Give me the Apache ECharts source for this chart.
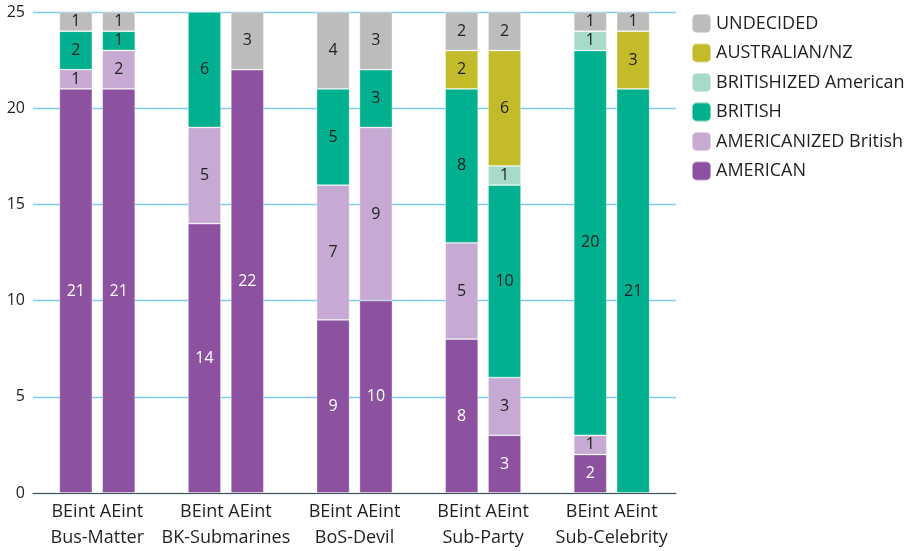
<!DOCTYPE html>
<html>
<head>
<meta charset="utf-8">
<script src="https://cdn.jsdelivr.net/npm/echarts@6/dist/echarts.min.js"></script>
<style>
  html, body { margin: 0; padding: 0; background: #fff; }
  #chart { width: 919px; height: 551px; }
</style>
</head>
<body>
<div id="chart"></div>
<script>
// Stimulus groups; each has a BEint and an AEint bar
const groups = ['Bus-Matter', 'BK-Submarines', 'BoS-Devil', 'Sub-Party', 'Sub-Celebrity'];
const conditions = ['BEint', 'AEint'];

// Counts per bar, ordered group by group: BEint, AEint
const american        = [21, 21, 14, 22, 9, 10, 8, 3, 2, 0];
const americanized    = [1, 2, 5, 0, 7, 9, 5, 3, 1, 0];
const british         = [2, 1, 6, 0, 5, 3, 8, 10, 20, 21];
const britishized     = [0, 0, 0, 0, 0, 0, 0, 1, 1, 0];
const australianNZ    = [0, 0, 0, 0, 0, 0, 2, 6, 0, 3];
const undecided       = [1, 1, 0, 3, 4, 3, 2, 2, 1, 1];

const yTicks = { min: 0, max: 25, interval: 5 };

const seriesDefs = [
  { name: 'AMERICAN', values: american, color: '#8c519f', label: '#ffffff' },
  { name: 'AMERICANIZED British', values: americanized, color: '#c6aad3', label: '#222222' },
  { name: 'BRITISH', values: british, color: '#00b08f', label: '#222222' },
  { name: 'BRITISHIZED American', values: britishized, color: '#a7dacb', label: '#222222' },
  { name: 'AUSTRALIAN/NZ', values: australianNZ, color: '#c4bb2b', label: '#222222' },
  { name: 'UNDECIDED', values: undecided, color: '#bdbcbb', label: '#222222' }
];

// Bar slots: an empty slot at each edge and one empty slot between groups
const slotCount = groups.length * 3 + 1;
const slotNames = [];
for (let i = 0; i < slotCount; i++) slotNames.push('s' + i);
function slotOf(barIndex) {
  const g = Math.floor(barIndex / 2), k = barIndex % 2;
  return 1 + g * 3 + k;
}
function toSlots(values) {
  const out = new Array(slotCount).fill(null);
  values.forEach((v, i) => { out[slotOf(i)] = v > 0 ? v : null; });
  return out;
}

const FONT = '"Open Sans", "Noto Sans", sans-serif';

const chart = echarts.init(document.getElementById('chart'), null, { renderer: 'canvas' });
chart.setOption({
  animation: false,
  backgroundColor: '#ffffff',
  grid: { left: 33, right: 243, top: 12, bottom: 53, containLabel: false },
  legend: {
    orient: 'vertical',
    left: 686,
    top: 8,
    itemWidth: 19,
    itemHeight: 19,
    itemGap: 8.5,
    icon: 'roundRect',
    data: seriesDefs.map(s => s.name).reverse(),
    textStyle: { fontFamily: FONT, fontSize: 18, color: '#231f20' }
  },
  xAxis: [
    {
      type: 'category',
      data: slotNames,
      boundaryGap: false,
      axisLine: { show: true, lineStyle: { color: '#4d4d4d', width: 1.2 } },
      axisTick: { show: false },
      axisLabel: { show: false },
      splitLine: { show: false }
    },
    {
      type: 'category',
      data: groups.map(g => conditions.join(' ') + '\n' + g),
      position: 'bottom',
      boundaryGap: true,
      axisLine: { show: false },
      axisTick: { show: false },
      axisLabel: {
        margin: 6,
        fontFamily: FONT,
        fontSize: 18,
        lineHeight: 26,
        color: '#231f20',
        interval: 0
      }
    }
  ],
  yAxis: {
    type: 'value',
    min: yTicks.min,
    max: yTicks.max,
    interval: yTicks.interval,
    axisLine: { show: false },
    axisTick: { show: false },
    axisLabel: { margin: 8, fontFamily: FONT, fontSize: 16, color: '#231f20' },
    splitLine: { show: true, lineStyle: { color: '#7ccdee', width: 1.4 } }
  },
  series: seriesDefs.map(s => ({
    name: s.name,
    type: 'bar',
    stack: 'total',
    xAxisIndex: 0,
    barWidth: 33,
    data: toSlots(s.values),
    itemStyle: { color: s.color, borderColor: 'rgba(255,255,255,0.45)', borderWidth: 0.8 },
    label: {
      show: true,
      position: 'inside',
      fontFamily: FONT,
      fontSize: 16,
      color: s.label,
      formatter: p => (p.value ? String(p.value) : '')
    }
  }))
});
</script>
</body>
</html>
